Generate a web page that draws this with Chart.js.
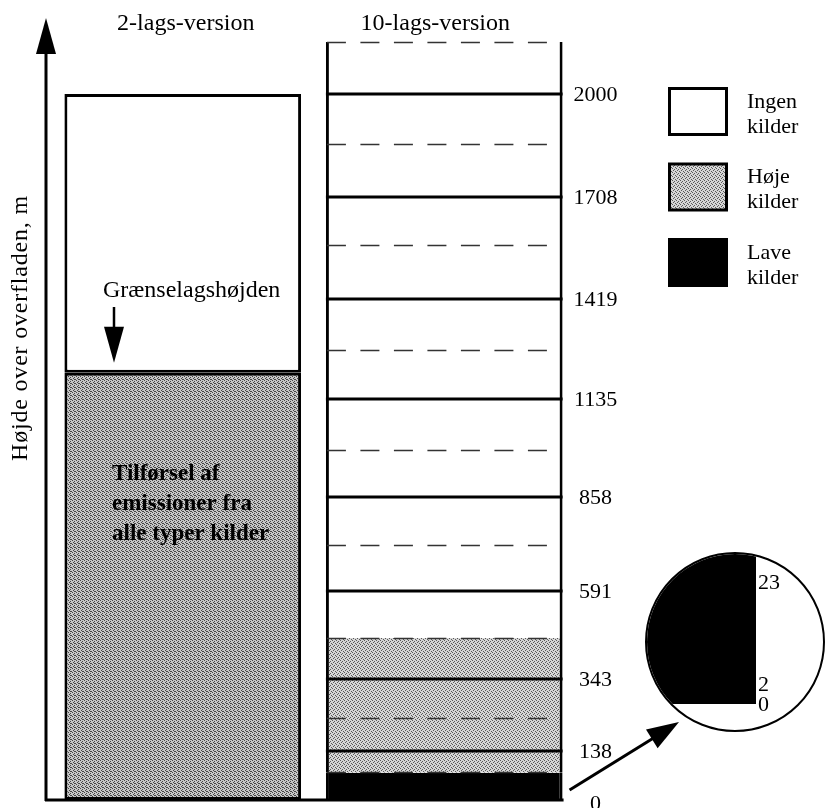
<!DOCTYPE html>
<html lang="da">
<head>
<meta charset="utf-8">
<title>2-lags- og 10-lags-version</title>
<script src="https://cdn.jsdelivr.net/npm/chart.js@4.4.1/dist/chart.umd.min.js"></script>
<style>
  html, body { margin: 0; padding: 0; background: #fff; }
  #wrap { position: relative; width: 828px; height: 808px; }
  #layers { position: absolute; left: 0; top: 0; }
  #zoomRing {
    position: absolute; left: 645px; top: 552px;
    width: 176px; height: 176px;
    border: 2px solid #000; border-radius: 50%;
    overflow: hidden; background: #fff;
  }
  #inset { display: block; }
</style>
</head>
<body>
<div id="wrap">
  <canvas id="layers" width="828" height="808"></canvas>
  <div id="zoomRing"><canvas id="inset" width="176" height="176"></canvas></div>
</div>

<script>
// Data (height above the surface, m)
const versions = ['2-lags-version', '10-lags-version'];
const noSources = [[1210, 2000], [459, 2147]];   // Ingen kilder
const highSources = [[0, 1210], [77, 459]];      // Høje kilder
const lowSources = [null, [0, 77]];              // Lave kilder
const layerLevels = [0, 138, 343, 591, 858, 1135, 1419, 1708, 2000];
const midLevels = [79, 232, 459, 722, 991, 1275, 1572, 1858, 2147];
const axisTop = 2215;

// Inset: the lowest layer, zoomed
const insetTicks = [0, 2, 23];
const insetLow = [[0, 28.3]];
const insetTop = 28.3;

const serif = "'Liberation Serif', 'Times New Roman', serif";

// Halftone grey like the printed original
function halftone(base, dot, spots) {
  const c = document.createElement('canvas');
  c.width = 4;
  c.height = 4;
  const g = c.getContext('2d');
  g.fillStyle = base;
  g.fillRect(0, 0, 4, 4);
  g.fillStyle = dot;
  spots.forEach(([x, y]) => g.fillRect(x, y, 1, 1));
  return g.createPattern(c, 'repeat');
}
const greyLight = halftone('#d6d6d6', '#5a5a5a', [[0, 0], [2, 1], [1, 2], [3, 3]]);
const greyDark = halftone('#c6c6c6', '#454545', [[0, 0], [2, 1], [1, 2], [3, 3], [2, 3]]);

const colSide = { left: 3, right: 3, top: 0, bottom: 0 };

function arrowHead(ctx, tipX, tipY, fromX, fromY, len, half) {
  const a = Math.atan2(tipY - fromY, tipX - fromX);
  ctx.beginPath();
  ctx.moveTo(tipX, tipY);
  ctx.lineTo(tipX - len * Math.cos(a) + half * Math.sin(a), tipY - len * Math.sin(a) - half * Math.cos(a));
  ctx.lineTo(tipX - len * Math.cos(a) - half * Math.sin(a), tipY - len * Math.sin(a) + half * Math.cos(a));
  ctx.closePath();
  ctx.fill();
}

// Layer boundaries of the 10-layer column
const layerLines = {
  id: 'layerLines',
  afterDatasetsDraw(chart) {
    const ctx = chart.ctx;
    const y = chart.scales.y;
    const bar = chart.getDatasetMeta(0).data[1].getProps(['x', 'width'], true);
    const x0 = bar.x - bar.width / 2;
    const x1 = bar.x + bar.width / 2;

    ctx.save();
    ctx.strokeStyle = '#000';
    ctx.lineWidth = 3;
    layerLevels.slice(1).forEach(v => {
      const py = Math.round(y.getPixelForValue(v));
      ctx.beginPath();
      ctx.moveTo(x0, py);
      ctx.lineTo(x1, py);
      ctx.stroke();
    });

    ctx.strokeStyle = '#333';
    ctx.lineWidth = 1.5;
    ctx.setLineDash([19, 14.5]);
    midLevels.forEach(v => {
      const py = Math.round(y.getPixelForValue(v)) + 0.5;
      ctx.beginPath();
      ctx.moveTo(x0 + 1, py);
      ctx.lineTo(x1 - 12, py);
      ctx.stroke();
    });
    ctx.restore();
  }
};

// Axis arrow, texts, legend and pointer to the inset
const annotations = {
  id: 'annotations',
  afterDraw(chart) {
    const ctx = chart.ctx;
    const y = chart.scales.y;
    const x = chart.scales.x;
    const area = chart.chartArea;
    const col = chart.getDatasetMeta(0).data[1].getProps(['x', 'width'], true);
    const colRight = col.x + col.width / 2;
    const y0 = y.getPixelForValue(0);

    ctx.save();
    ctx.fillStyle = '#000';
    ctx.strokeStyle = '#000';

    // vertical axis with arrow, and ground line
    const ax = area.left - 6;
    ctx.lineWidth = 3;
    ctx.beginPath();
    ctx.moveTo(ax, y0 + 1);
    ctx.lineTo(ax, area.top + 30);
    ctx.stroke();
    arrowHead(ctx, ax, y.getPixelForValue(axisTop), ax, y0, 36, 10);
    ctx.beginPath();
    ctx.moveTo(ax - 1, y0);
    ctx.lineTo(colRight + 1, y0);
    ctx.stroke();

    // axis title
    ctx.save();
    ctx.translate(21, 328);
    ctx.rotate(-Math.PI / 2);
    ctx.font = '24px ' + serif;
    ctx.letterSpacing = '0.8px';
    ctx.textAlign = 'center';
    ctx.textBaseline = 'middle';
    ctx.fillText('Højde over overfladen, m', 0, 0);
    ctx.restore();

    // column titles
    ctx.font = '24px ' + serif;
    ctx.textAlign = 'center';
    ctx.textBaseline = 'middle';
    const titleShift = [3, -9];
    versions.forEach((v, i) => {
      ctx.fillText(v, x.getPixelForValue(i) + titleShift[i], 24);
    });

    // level labels
    ctx.font = '22px ' + serif;
    layerLevels.forEach(v => {
      ctx.fillText(String(v), colRight + 33, y.getPixelForValue(v) + (v === 0 ? 4 : 1));
    });

    // boundary layer height
    ctx.textAlign = 'left';
    ctx.font = '24px ' + serif;
    ctx.fillText('Grænselagshøjden', 103, 291);
    const by = y.getPixelForValue(noSources[0][0]);
    ctx.lineWidth = 2.5;
    ctx.beginPath();
    ctx.moveTo(114, 307);
    ctx.lineTo(114, by - 30);
    ctx.stroke();
    arrowHead(ctx, 114, by - 10, 114, 307, 36, 10);

    ctx.font = 'bold 23px ' + serif;
    ['Tilførsel af', 'emissioner fra', 'alle typer kilder'].forEach((t, i) => {
      ctx.fillText(t, 112, 474 + i * 30);
    });

    // legend
    ctx.font = '22px ' + serif;
    chart.data.datasets.forEach((ds, i) => {
      const top = 87 + i * 75.5;
      const fill = Array.isArray(ds.backgroundColor) ? ds.backgroundColor[1] : ds.backgroundColor;
      ctx.fillStyle = '#000';
      ctx.fillRect(668, top, 60, 49);
      ctx.fillStyle = fill;
      ctx.fillRect(671, top + 3, 54, 43);
      ctx.fillStyle = '#000';
      ds.label.split(' ').forEach((word, j) => {
        ctx.fillText(word, 747, top + 15 + j * 25);
      });
    });

    // pointer to the inset
    ctx.lineWidth = 3;
    ctx.beginPath();
    ctx.moveTo(colRight + 7, y0 - 10);
    ctx.lineTo(660, 734);
    ctx.stroke();
    arrowHead(ctx, 679, 722, colRight + 7, y0 - 10, 32, 11);
    ctx.restore();
  }
};

new Chart(document.getElementById('layers'), {
  type: 'bar',
  data: {
    labels: versions,
    datasets: [
      {
        label: 'Ingen kilder',
        data: noSources,
        backgroundColor: ['#ffffff', '#ffffff'],
        borderWidth: [3, colSide]
      },
      {
        label: 'Høje kilder',
        data: highSources,
        backgroundColor: [greyDark, greyLight],
        borderWidth: [3, colSide]
      },
      {
        label: 'Lave kilder',
        data: lowSources,
        backgroundColor: '#000000',
        borderWidth: [0, colSide]
      }
    ]
  },
  options: {
    responsive: false,
    animation: false,
    events: [],
    layout: { padding: { left: 52, right: 253, top: 18, bottom: 8 } },
    datasets: {
      bar: {
        grouped: false,
        barPercentage: 0.905,
        categoryPercentage: 1,
        borderColor: '#000',
        borderSkipped: false
      }
    },
    scales: {
      x: { display: false },
      y: { display: false, min: 0, max: axisTop }
    },
    plugins: {
      legend: { display: false },
      tooltip: { enabled: false }
    }
  },
  plugins: [layerLines, annotations]
});

// inset tick labels; keep neighbouring labels at least 20px apart
const insetLabels = {
  id: 'insetLabels',
  afterDraw(chart) {
    const ctx = chart.ctx;
    const y = chart.scales.y;
    ctx.save();
    ctx.fillStyle = '#000';
    ctx.font = '22px ' + serif;
    ctx.textAlign = 'left';
    ctx.textBaseline = 'middle';
    let last = Infinity;
    insetTicks.forEach(v => {
      const py = Math.min(y.getPixelForValue(v) + 1, last - 20);
      ctx.fillText(String(v), chart.chartArea.right + 2, py);
      last = py;
    });
    ctx.restore();
  }
};

new Chart(document.getElementById('inset'), {
  type: 'bar',
  data: {
    labels: ['0-23 m'],
    datasets: [{
      label: 'Lave kilder',
      data: insetLow,
      backgroundColor: '#000',
      borderWidth: 0,
      barPercentage: 1,
      categoryPercentage: 1
    }]
  },
  options: {
    responsive: false,
    animation: false,
    events: [],
    layout: { padding: { left: 0, top: 0, right: 67, bottom: 26 } },
    scales: {
      x: { display: false },
      y: { display: false, min: 0, max: insetTop }
    },
    plugins: {
      legend: { display: false },
      tooltip: { enabled: false }
    }
  },
  plugins: [insetLabels]
});
</script>
</body>
</html>
